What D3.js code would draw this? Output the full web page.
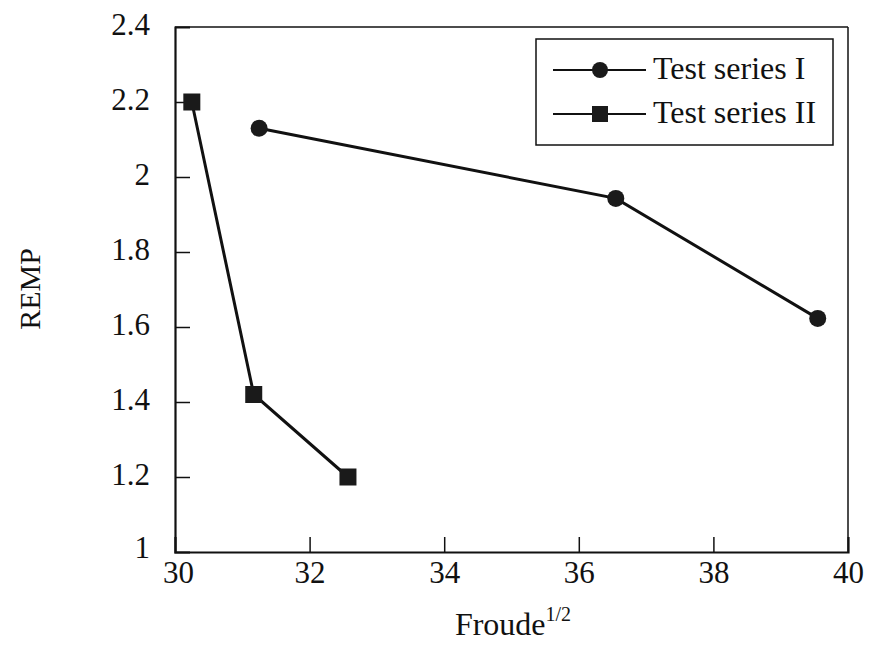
<!DOCTYPE html>
<html>
<head>
<meta charset="utf-8">
<script src="https://cdn.jsdelivr.net/npm/d3@7"></script>
<style>
  body { margin: 0; background: #fff; }
  text { font-family: "Liberation Serif", "Times New Roman", serif; fill: #111; }
</style>
</head>
<body>
<svg id="chart" width="869" height="646"></svg>
<script>
const xTicks = [30, 32, 34, 36, 38, 40];
const yTicks = [1, 1.2, 1.4, 1.6, 1.8, 2, 2.2, 2.4];
const seriesNames = ["Test series I", "Test series II"];
const series1X = [31.25, 36.55, 39.55];
const series1Y = [2.13, 1.943, 1.623];
const series2X = [30.25, 31.17, 32.57];
const series2Y = [2.2, 1.42, 1.2];

const svg = d3.select("#chart");
const L = 175, R = 848, T = 27, B = 552;
const x = d3.scaleLinear().domain([30, 40]).range([L, R]);
const y = d3.scaleLinear().domain([1, 2.4]).range([B, T]);
const ink = "#111";

// frame
svg.append("line").attr("x1", L).attr("x2", R).attr("y1", T).attr("y2", T).attr("stroke", ink).attr("stroke-width", 1.5);
svg.append("line").attr("x1", R).attr("x2", R).attr("y1", T).attr("y2", B).attr("stroke", ink).attr("stroke-width", 1.5);

// axes with inward ticks
const xAxis = d3.axisBottom(x).tickValues(xTicks).tickSize(-15).tickPadding(12).tickFormat(d3.format("d"));
const gx = svg.append("g").attr("transform", `translate(0,${B})`).call(xAxis);
gx.select(".domain").attr("stroke", ink).attr("stroke-width", 2.2);
gx.selectAll(".tick line").attr("stroke", ink).attr("stroke-width", 1.5);
gx.selectAll(".tick text").attr("font-size", 31).attr("dy", 0).attr("y", 31)
  .attr("font-family", "Liberation Serif").style("fill", ink);
gx.selectAll(".tick").filter(d => d === 30 || d === 40).select("line").remove();
gx.selectAll(".tick").filter(d => d === 30).select("text").attr("x", 3);

const yAxis = d3.axisLeft(y).tickValues(yTicks).tickSize(-15).tickPadding(25)
  .tickFormat(d => d3.format("~g")(d));
const gy = svg.append("g").attr("transform", `translate(${L},0)`).call(yAxis);
gy.select(".domain").attr("stroke", ink).attr("stroke-width", 2.2);
gy.selectAll(".tick line").attr("stroke", ink).attr("stroke-width", 1.5);
gy.selectAll(".tick text").attr("font-size", 31).attr("dy", 7)
  .attr("font-family", "Liberation Serif").style("fill", ink);
gy.selectAll(".tick").filter(d => d === 1 || d === 2.4).select("line").remove();
gy.selectAll(".tick").filter(d => d === 1).select("text").attr("dy", 5);

// axis titles
svg.append("text").attr("transform", "translate(40,289) rotate(-90)")
  .attr("text-anchor", "middle").attr("font-size", 30).text("REMP");
const xt = svg.append("text").attr("x", 513).attr("y", 635).attr("text-anchor", "middle").attr("font-size", 32);
xt.append("tspan").text("Froude");
xt.append("tspan").attr("font-size", 20).attr("dy", -14).text("1/2");

// series
const line = d3.line().x(d => x(d[0])).y(d => y(d[1]));
const s1 = series1X.map((v, i) => [v, series1Y[i]]);
const s2 = series2X.map((v, i) => [v, series2Y[i]]);

svg.append("path").datum(s1).attr("d", line).attr("fill", "none").attr("stroke", ink).attr("stroke-width", 3);
svg.append("path").datum(s2).attr("d", line).attr("fill", "none").attr("stroke", ink).attr("stroke-width", 3);

svg.selectAll("circle.s1").data(s1).enter().append("circle")
  .attr("cx", d => x(d[0])).attr("cy", d => y(d[1])).attr("r", 8.5).attr("fill", "#1a1a1a");
const sq = 17;
svg.selectAll("rect.s2").data(s2).enter().append("rect")
  .attr("x", d => x(d[0]) - sq / 2).attr("y", d => y(d[1]) - sq / 2)
  .attr("width", sq).attr("height", sq).attr("fill", "#1a1a1a");

// legend
const lg = svg.append("g");
lg.append("rect").attr("x", 536).attr("y", 39).attr("width", 297).attr("height", 106)
  .attr("fill", "#fff").attr("stroke", ink).attr("stroke-width", 1.5);
const legendRows = [70, 114];
seriesNames.forEach((name, i) => {
  const yy = legendRows[i];
  lg.append("line").attr("x1", 553).attr("x2", 646).attr("y1", yy).attr("y2", yy)
    .attr("stroke", ink).attr("stroke-width", 2);
  if (i === 0) {
    lg.append("circle").attr("cx", 600).attr("cy", yy).attr("r", 8).attr("fill", "#1a1a1a");
  } else {
    lg.append("rect").attr("x", 600 - 8).attr("y", yy - 8).attr("width", 16).attr("height", 16).attr("fill", "#1a1a1a");
  }
  lg.append("text").attr("x", 653).attr("y", yy + 9).attr("font-size", 32).text(name);
});
</script>
</body>
</html>
